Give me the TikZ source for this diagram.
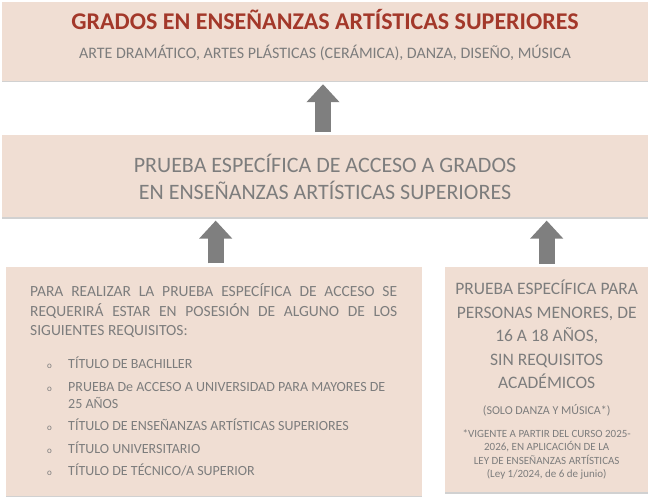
\documentclass[tikz,border=0pt]{standalone}
\usepackage{fontspec}
\setmainfont{Carlito}
\usepackage{tikz}
\usetikzlibrary{positioning, arrows.meta, shadows}

\definecolor{cajafondo}{RGB}{240,222,211}
\definecolor{titulorojo}{RGB}{163,56,42}
\definecolor{textogris}{RGB}{125,125,125}
\definecolor{flechagris}{RGB}{127,127,127}

\tikzset{
	caja/.style={rectangle, fill=cajafondo, inner sep=0pt,
		drop shadow={shadow xshift=0pt, shadow yshift=-1.5pt, fill=black!40, opacity=.45}},
	texto/.style={text=textogris, inner sep=0pt},
	flecha/.style={draw=flechagris, line width=16pt,
		-{Triangle[width=32pt 0 0, length=18pt 0 0]}, shorten <=3pt, shorten >=3pt}
}

\begin{document}
\begin{tikzpicture}[x=1pt, y=-1pt]
	\useasboundingbox (0,0) rectangle (651,497);

	% cajas
	\node[caja, minimum width=646pt, minimum height=79pt] (grados) at (325,41.5) {};
	\node[caja, minimum width=646pt, minimum height=82pt, below=54pt of grados,
		texto, align=center, font=\fontsize{22}{27}\selectfont] (prueba)
		{PRUEBA ESPECÍFICA DE ACCESO A GRADOS\\EN ENSEÑANZAS ARTÍSTICAS SUPERIORES};
	\node[caja, minimum width=416pt, minimum height=229pt, anchor=north west] (requisitos) at (5.5,266.5) {};
	\node[caja, minimum width=203pt, minimum height=225pt, anchor=north west] (menores) at (445,267) {};

	% textos
	\node[texto, text=titulorojo, font=\fontsize{24}{28}\bfseries\selectfont] (titulo)
		at ([yshift=-18pt]grados.north) {GRADOS EN ENSEÑANZAS ARTÍSTICAS SUPERIORES};
	\node[texto, font=\fontsize{16}{19}\selectfont] (disciplinas) at ([yshift=-51.5pt]grados.north)
		{ARTE DRAMÁTICO, ARTES PLÁSTICAS (CERÁMICA), DANZA, DISEÑO, MÚSICA};

	\node[texto, anchor=north west, text width=367pt, align=justify,
		font=\fontsize{15.5}{19.5}\selectfont] (parrafo) at ([xshift=24.5pt,yshift=-17pt]requisitos.north west)
		{\hyphenpenalty=10000 PARA REALIZAR LA PRUEBA ESPECÍFICA DE ACCESO SE\linebreak
		REQUERIRÁ ESTAR EN POSESIÓN DE ALGUNO DE LOS\linebreak SIGUIENTES REQUISITOS:};
	\node[texto, anchor=north west, font=\fontsize{14}{17}\selectfont] (lista)
		at ([xshift=17pt,yshift=-19pt]parrafo.south west)
		{\begin{tabular}{@{}p{21pt}@{}l@{}}
			{\small o} & TÍTULO DE BACHILLER\\[5.5pt]
			{\small o} & PRUEBA De ACCESO A UNIVERSIDAD PARA MAYORES DE\\
			& 25 AÑOS\\[5.5pt]
			{\small o} & TÍTULO DE ENSEÑANZAS ARTÍSTICAS SUPERIORES\\[5.5pt]
			{\small o} & TÍTULO UNIVERSITARIO\\[5.5pt]
			{\small o} & TÍTULO DE TÉCNICO/A SUPERIOR
		\end{tabular}};

	\node[texto, anchor=north, align=center, font=\fontsize{17.5}{23.5}\selectfont] (sinrequisitos)
		at ([yshift=-13pt]menores.north)
		{PRUEBA ESPECÍFICA PARA\\PERSONAS MENORES, DE\\16 A 18 AÑOS,\\SIN REQUISITOS\\ACADÉMICOS};
	\node[texto, below=15pt of sinrequisitos, font=\fontsize{12}{14}\selectfont] (danza)
		{(SOLO DANZA Y MÚSICA*)};
	\node[texto, below=13pt of danza, align=center, font=\fontsize{11}{13.5}\selectfont] (vigente)
		{*VIGENTE A PARTIR DEL CURSO 2025-\\2026, EN APLICACIÓN DE LA\\LEY DE ENSEÑANZAS ARTÍSTICAS\\(Ley 1/2024, de 6 de junio)};

	% flechas
	\draw[flecha] ([xshift=-2pt]prueba.north) -- ([xshift=-2pt]grados.south);
	\draw[flecha] ([xshift=2pt]requisitos.north) -- ([xshift=2pt]requisitos.north |- prueba.south);
	\draw[flecha] (menores.north) -- (menores.north |- prueba.south);
\end{tikzpicture}
\end{document}
